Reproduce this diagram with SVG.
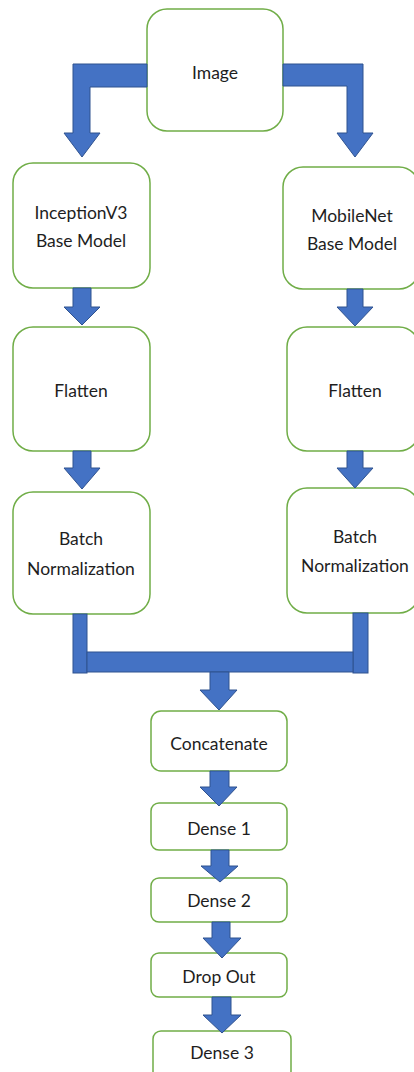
<svg xmlns="http://www.w3.org/2000/svg" width="414" height="1072" viewBox="0 0 414 1072">
<style>
.box{fill:#fff;stroke:#70AD47;stroke-width:1.5}
.arr{fill:#4472C4;stroke:#2F528F;stroke-width:1}
.t{font-family:Lato,"Liberation Sans",sans-serif;font-size:17.5px;fill:#1e1e1e;text-anchor:middle}
</style>
<rect width="414" height="1072" fill="#fff"/>
<g id="n-image"><rect class="box" x="147" y="9" width="136" height="122" rx="20"/><text class="t" x="215" y="79">Image</text></g>
<g id="n-inception"><rect class="box" x="13" y="163" width="137" height="125" rx="20"/><text class="t" x="81" y="219">InceptionV3</text><text class="t" x="81" y="247">Base Model</text></g>
<g id="n-mobilenet"><rect class="box" x="283" y="167" width="136" height="122" rx="20"/><text class="t" x="352" y="222">MobileNet</text><text class="t" x="352" y="250">Base Model</text></g>
<g id="n-flatten-l"><rect class="box" x="13" y="327" width="137" height="124" rx="20"/><text class="t" x="81" y="397">Flatten</text></g>
<g id="n-flatten-r"><rect class="box" x="287" y="327" width="132" height="124" rx="20"/><text class="t" x="355" y="397">Flatten</text></g>
<g id="n-bn-l"><rect class="box" x="13" y="492" width="137" height="122" rx="20"/><text class="t" x="81" y="545">Batch</text><text class="t" x="81" y="575">Normalization</text></g>
<g id="n-bn-r"><rect class="box" x="287" y="488" width="132" height="125" rx="20"/><text class="t" x="355" y="543">Batch</text><text class="t" x="355" y="572">Normalization</text></g>
<g id="n-concat"><rect class="box" x="151" y="711" width="136" height="60" rx="10"/><text class="t" x="219" y="750">Concatenate</text></g>
<g id="n-dense1"><rect class="box" x="151" y="803" width="136" height="47" rx="8"/><text class="t" x="219" y="835">Dense 1</text></g>
<g id="n-dense2"><rect class="box" x="151" y="878" width="136" height="44" rx="8"/><text class="t" x="219" y="907">Dense 2</text></g>
<g id="n-dropout"><rect class="box" x="151" y="953" width="136" height="44" rx="8"/><text class="t" x="219" y="983">Drop Out</text></g>
<g id="n-dense3"><rect class="box" x="153" y="1031" width="138" height="48" rx="8"/><text class="t" x="222" y="1059">Dense 3</text></g>
<g id="connectors">
<polygon class="arr" points="147,64 73,64 73,133 64,133 82,157 100,133 90,133 90,87 147,87"/>
<polygon class="arr" points="283,64 363,64 363,133 373,133 355,157 337,133 347,133 347,86 283,86"/>
<polygon class="arr" points="73,288 91,288 91,307 100,307 82,325 64,307 73,307"/>
<polygon class="arr" points="347,289 363,289 363,307 373,307 355,326 337,307 347,307"/>
<polygon class="arr" points="73,451 91,451 91,468 100,468 82,489 64,468 73,468"/>
<polygon class="arr" points="347,451 363,451 363,468 373,468 355,488 337,468 347,468"/>
<rect class="arr" x="73" y="614" width="14" height="59"/>
<rect class="arr" x="353" y="613" width="15" height="60"/>
<rect class="arr" x="87" y="652" width="266" height="20"/>
<polygon class="arr" points="210,672 229,672 229,690 237,690 219,710 200,690 210,690"/>
<polygon class="arr" points="210,771 229,771 229,787 237,787 219,806 200,787 210,787"/>
<polygon class="arr" points="211,850 229,850 229,866 238,866 220,882 201,866 211,866"/>
<polygon class="arr" points="212,922 230,922 230,938 241,938 222,958 203,938 212,938"/>
<polygon class="arr" points="212,997 231,997 231,1015 241,1015 222,1033 203,1015 212,1015"/>
</g>
</svg>
